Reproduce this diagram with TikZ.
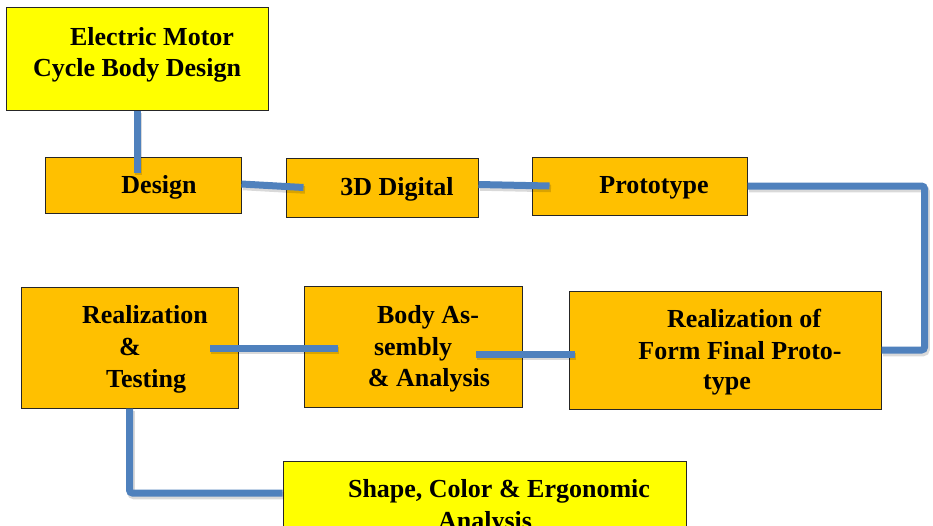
\documentclass[tikz,border=0pt]{standalone}
\usepackage{fontspec}
\setmainfont{Liberation Serif}
\usetikzlibrary{calc}
\definecolor{boxyellow}{HTML}{FFFF00}
\definecolor{boxorange}{HTML}{FFC000}
\definecolor{connblue}{HTML}{4F81BD}
\definecolor{boxline}{HTML}{262626}
\tikzset{
  ybox/.style={draw=boxline, line width=1pt, fill=boxyellow, inner sep=0pt, rectangle},
  obox/.style={draw=boxline, line width=1pt, fill=boxorange, inner sep=0pt, rectangle},
  txt/.style={anchor=base, inner sep=0pt, font=\fontsize{26}{32}\selectfont\bfseries},
  conn/.style={draw=connblue, line width=7pt, rounded corners=3pt,
    preaction={draw=black, opacity=0.15, line width=7.5pt, transform canvas={xshift=1.5pt, yshift=-2.5pt}}}
}
\begin{document}
\begin{tikzpicture}[x=1pt,y=-1pt]
\path[use as bounding box, clip] (0,0) rectangle (933,525);
\fill[white] (0,0) rectangle (933,525);
% boxes
\node[ybox, minimum width=262pt, minimum height=103pt] (top) at (137,58.5) {};
\node[obox, minimum width=196pt, minimum height=56pt] (design) at (143,185) {};
\node[obox, minimum width=192pt, minimum height=59pt] (digital) at (382,187.5) {};
\node[obox, minimum width=215pt, minimum height=58pt] (proto) at (639.5,186) {};
\node[obox, minimum width=217pt, minimum height=121pt] (rt) at (129.5,347.5) {};
\node[obox, minimum width=218pt, minimum height=121pt] (body) at (413,346.5) {};
\node[obox, minimum width=312pt, minimum height=118pt] (form) at (725,350) {};
\node[ybox, minimum width=403pt, minimum height=68pt] (shape) at (484.5,495) {};
% connectors
\draw[conn] (top.south) -- ++(0,62);
\draw[conn] ($(design.east)+(0,-1)$) -- ($(digital.west)+(18,0)$);
\draw[conn] ($(digital.east)+(0,-3)$) -- ($(proto.west)+(18,0)$);
\draw[conn] (proto.east) -- ++(177,0) |- (form.east);
\draw[conn] ($(form.west)+(6,4)$) -- ($(body.east)+(-47,7.5)$);
\draw[conn] ($(body.west)+(34,1.5)$) -- ($(rt.east)+(-29,0.5)$);
\draw[conn] (rt.south) |- ($(shape.west)+(0,-2)$);
% texts
\node[txt] (t1a) at (152,45) {Electric Motor};
\node[txt] (t1b) at (137,76) {Cycle Body Design};
\node[txt] (t2) at (159,193) {Design};
\node[txt] (t3) at (397,195) {3D Digital};
\node[txt] (t4) at (654,193) {Prototype};
\node[txt] (t5a) at (145,323) {Realization};
\node[txt] (t5b) at (130,355) {\&};
\node[txt] (t5c) at (146,387) {Testing};
\node[txt] (t6a) at (428,323) {Body As-};
\node[txt] (t6b) at (413,355) {sembly};
\node[txt] (t6c) at (429,386) {\& Analysis};
\node[txt] (t7a) at (744,327) {Realization of};
\node[txt] (t7b) at (740,359) {Form Final Proto-};
\node[txt] (t7c) at (727,389) {type};
\node[txt] (t8a) at (499,497) {Shape, Color \& Ergonomic};
\node[txt] (t8b) at (485,529) {Analysis};
\end{tikzpicture}
\end{document}
